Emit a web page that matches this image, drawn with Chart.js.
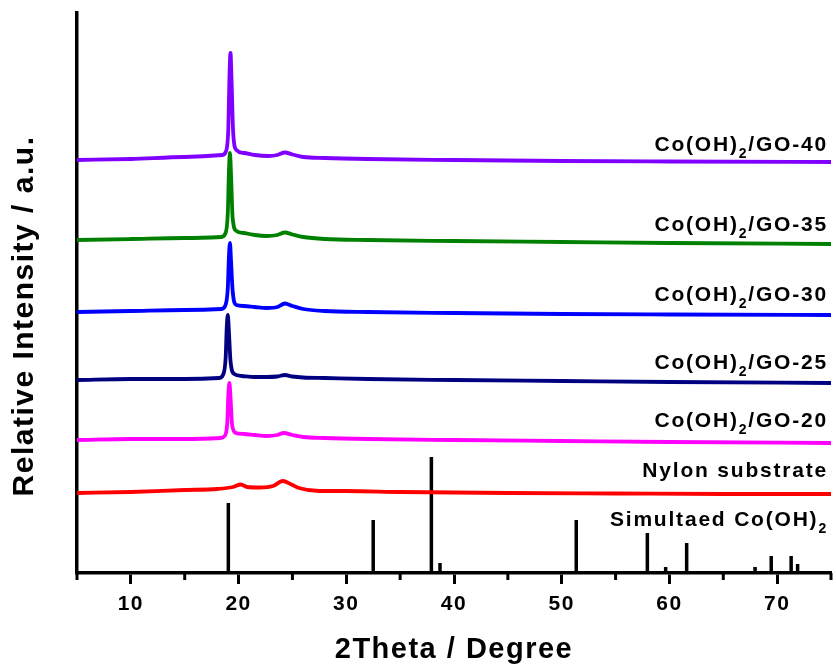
<!DOCTYPE html>
<html>
<head>
<meta charset="utf-8">
<script src="https://cdn.jsdelivr.net/npm/chart.js@4.4.0/dist/chart.umd.min.js"></script>
<style>
  html, body { margin: 0; padding: 0; background: #fff; }
  #wrap { width: 836px; height: 668px; }
</style>
</head>
<body>
<div id="wrap"><canvas id="xrd" width="836" height="668"></canvas></div>
<script>
// Axis range
const xMin = 5, xMax = 75;
const yMin = 0, yMax = 560;

// Co(OH)2/GO-40
const go40X = [5, 10, 15, 18.5, 18.8, 19.05, 19.15, 19.25, 19.35, 19.5, 19.8, 20.5, 21.5, 22.8, 23.6, 24.3, 25.0, 26, 28, 32, 40, 50, 60, 75];
const go40Y = [413, 414, 416, 418, 421, 445, 495, 520, 492, 440, 423, 420, 418, 417, 418, 420.5, 418.5, 416, 415, 414, 413, 412, 411.5, 411];

// Co(OH)2/GO-35
const go35X = [5, 10, 15, 18.4, 18.75, 19.0, 19.1, 19.2, 19.3, 19.45, 19.8, 20.5, 21.5, 22.6, 23.6, 24.3, 25.0, 26, 28, 32, 40, 50, 60, 75];
const go35Y = [333, 334, 335, 336, 339, 360, 400, 420, 398, 355, 342, 340, 338, 337, 338, 340.5, 338.5, 336, 334, 333, 332, 331, 330, 329];

// Co(OH)2/GO-30
const go30X = [5, 10, 15, 18.4, 18.75, 19.0, 19.1, 19.2, 19.3, 19.45, 19.8, 20.5, 21.5, 22.6, 23.6, 24.3, 25.0, 26, 28, 32, 40, 50, 60, 75];
const go30Y = [261, 262, 263, 264, 267, 285, 315, 330, 312, 282, 268, 267, 266, 265, 266, 269.5, 267, 264, 262, 261, 260, 259, 258.5, 258];

// Co(OH)2/GO-25
const go25X = [5, 10, 15, 18.2, 18.55, 18.8, 18.9, 19.0, 19.1, 19.25, 19.6, 20.3, 21.5, 22.6, 23.6, 24.3, 25.0, 26, 28, 32, 40, 50, 60, 75];
const go25Y = [193, 194, 194, 195, 198, 215, 245, 258, 242, 212, 199, 197, 196, 196, 196.5, 198, 196.5, 195.5, 195, 194, 193, 192, 191, 190];

// Co(OH)2/GO-20
const go20X = [5, 10, 15, 18.35, 18.7, 18.95, 19.05, 19.15, 19.25, 19.4, 19.75, 20.5, 21.5, 22.6, 23.6, 24.2, 25.0, 26, 28, 32, 40, 50, 60, 75];
const go20Y = [133, 134, 134, 135, 137, 150, 178, 190, 176, 148, 140, 139, 138, 137, 138, 140, 138, 136, 135, 134, 133, 132, 131, 130];

// Nylon substrate
const nylonX = [5, 10, 15, 18, 19.5, 20.2, 20.8, 22, 23.2, 24.1, 24.9, 25.6, 27.5, 30, 35, 45, 55, 65, 75];
const nylonY = [80, 81, 83, 84, 86, 88.5, 86, 85.5, 87, 92, 88.5, 85, 82, 82, 81, 80, 79.5, 79, 79];

// Simulated Co(OH)2 reflections
const stickX = [19.05, 32.5, 37.9, 38.7, 51.35, 57.95, 59.65, 61.6, 67.95, 69.45, 71.3, 71.9];
const stickH = [70, 53, 116, 10, 53, 40, 6, 30, 6, 17, 17, 9];

// label anchor levels (a.u.)
const labelLevels = [422, 342, 272, 204, 146, 96, 47];

const FONT = '"Liberation Sans", Arial, sans-serif';

function pts(xs, ys) {
    return xs.map((x, i) => ({ x: x, y: ys[i] }));
}

function stickPts() {
    const out = [];
    stickX.forEach((x, i) => {
        out.push({ x: x, y: 0 }, { x: x, y: stickH[i] }, { x: x, y: null });
    });
    return out;
}

function curve(label, color, xs, ys) {
    return {
        label: label,
        data: pts(xs, ys),
        borderColor: color,
        borderWidth: 3.8,
        pointRadius: 0,
        fill: false,
        cubicInterpolationMode: 'monotone'
    };
}

const labels = [
    { main: 'Co(OH)', sub: '2', tail: '/GO-40' },
    { main: 'Co(OH)', sub: '2', tail: '/GO-35' },
    { main: 'Co(OH)', sub: '2', tail: '/GO-30' },
    { main: 'Co(OH)', sub: '2', tail: '/GO-25' },
    { main: 'Co(OH)', sub: '2', tail: '/GO-20' },
    { main: 'Nylon substrate', sub: '', tail: '' },
    { main: 'Simultaed Co(OH)', sub: '2', tail: '' }
];

// Extra drawing: minor ticks, y title, series labels
const decor = {
    id: 'decor',
    beforeDraw(chart) {
        chart.ctx.letterSpacing = '1.5px';
    },
    afterDraw(chart) {
        const ctx = chart.ctx;
        const x = chart.scales.x, y = chart.scales.y;
        ctx.save();
        ctx.strokeStyle = '#000';
        ctx.lineWidth = 3;
        for (let v = xMin; v <= xMax; v += 10) {
            const px = x.getPixelForValue(v);
            ctx.beginPath();
            ctx.moveTo(px, y.bottom);
            ctx.lineTo(px, y.bottom + 7);
            ctx.stroke();
        }

        // y title
        ctx.fillStyle = '#000';
        ctx.save();
        ctx.translate(25, 316);
        ctx.rotate(-Math.PI / 2);
        ctx.letterSpacing = '1.5px';
        ctx.font = 'bold 30px ' + FONT;
        ctx.textAlign = 'center';
        ctx.textBaseline = 'middle';
        ctx.fillText('Relative Intensity / a.u.', 0, 0);
        ctx.restore();

        // series labels
        ctx.letterSpacing = '1.8px';
        ctx.textBaseline = 'alphabetic';
        ctx.textAlign = 'left';
        const big = 'bold 21px ' + FONT, small = 'bold 14px ' + FONT;
        labels.forEach((l, i) => {
            ctx.font = big;
            const w1 = ctx.measureText(l.main).width;
            const w3 = l.tail ? ctx.measureText(l.tail).width : 0;
            ctx.font = small;
            const w2 = l.sub ? ctx.measureText(l.sub).width : 0;
            const right = x.right - 3;
            const by = y.getPixelForValue(labelLevels[i]);
            let lx = right - (w1 + w2 + w3);
            ctx.font = big;
            ctx.fillText(l.main, lx, by);
            lx += w1;
            if (l.sub) {
                ctx.font = small;
                ctx.fillText(l.sub, lx, by + 7);
                lx += w2;
            }
            if (l.tail) {
                ctx.font = big;
                ctx.fillText(l.tail, lx, by);
            }
        });
        ctx.restore();
    }
};

new Chart(document.getElementById('xrd').getContext('2d'), {
    type: 'line',
    data: {
        datasets: [
            curve('Co(OH)2/GO-40', '#8000FF', go40X, go40Y),
            curve('Co(OH)2/GO-35', '#008000', go35X, go35Y),
            curve('Co(OH)2/GO-30', '#0000FF', go30X, go30Y),
            curve('Co(OH)2/GO-25', '#000080', go25X, go25Y),
            curve('Co(OH)2/GO-20', '#FF00FF', go20X, go20Y),
            curve('Nylon substrate', '#FF0000', nylonX, nylonY),
            {
                label: 'Simulated Co(OH)2',
                data: stickPts(),
                borderColor: '#000',
                borderWidth: 3.5,
                borderCapStyle: 'butt',
                pointRadius: 0,
                tension: 0,
                spanGaps: false
            }
        ]
    },
    options: {
        responsive: false,
        animation: false,
        devicePixelRatio: 1,
        layout: { padding: { left: 77, right: 5, top: 13, bottom: 0 } },
        plugins: {
            legend: { display: false },
            tooltip: { enabled: false }
        },
        scales: {
            x: {
                type: 'linear',
                min: xMin,
                max: xMax,
                offset: false,
                border: { display: true, color: '#000', width: 3.5 },
                grid: {
                    display: true,
                    offset: false,
                    drawOnChartArea: false,
                    drawTicks: true,
                    tickLength: 11,
                    tickWidth: 3,
                    tickColor: c => (c.tick && c.tick.value % 10 === 0) ? '#000' : 'rgba(0,0,0,0)'
                },
                ticks: {
                    stepSize: 5,
                    autoSkip: false,
                    maxRotation: 0,
                    padding: 8,
                    color: '#000',
                    font: { family: FONT, size: 21, weight: 'bold' },
                    callback: v => (v % 10 === 0 ? v : '')
                },
                title: {
                    display: true,
                    text: '2Theta / Degree',
                    color: '#000',
                    font: { family: FONT, size: 29, weight: 'bold' },
                    padding: { top: 15, bottom: 1 }
                },
                afterFit: s => {
                    s.height = 95;
                    s.paddingLeft = 0;
                    s.paddingRight = 0;
                }
            },
            y: {
                min: yMin,
                max: yMax,
                border: { display: true, color: '#000', width: 3.5 },
                grid: { display: false, drawTicks: false },
                ticks: { display: false },
                afterFit: s => { s.width = 0; }
            }
        }
    },
    plugins: [decor]
});
</script>
</body>
</html>
